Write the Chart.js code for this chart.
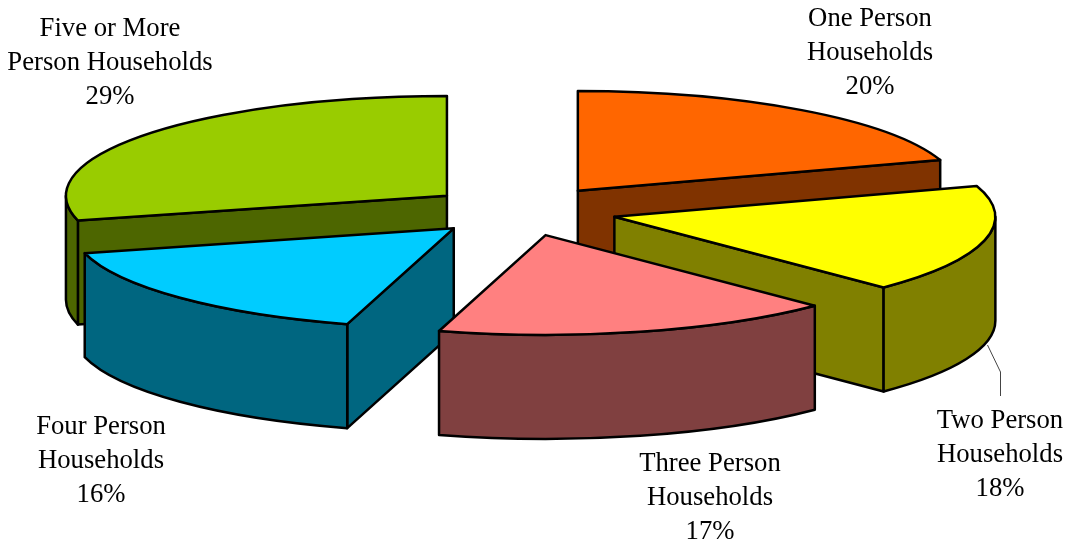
<!DOCTYPE html>
<html>
<head>
<meta charset="utf-8">
<title>Households by size</title>
<script src="https://cdn.jsdelivr.net/npm/chart.js@4"></script>
<style>
  html, body { margin: 0; padding: 0; background: #fff; }
  #wrap { width: 1070px; height: 544px; }
</style>
</head>
<body>
<div id="wrap"><canvas id="chart" width="1070" height="544"></canvas></div>
<script>
const categories = [
  "One Person Households",
  "Two Person Households",
  "Three Person Households",
  "Four Person Households",
  "Five or More Person Households",
];
// the printed labels are these rounded
const shares = [20, 17.51, 17, 16.49, 29];
const topColors = ["#FF6600", "#FFFF00", "#FF8080", "#00CCFF", "#99CC00"];
const wallColors = ["#803300", "#808000", "#804040", "#006680", "#4D6600"];

// label text, wrapped the way the picture wraps it
const labelLines = [
  ["One Person", "Households"],
  ["Two Person", "Households"],
  ["Three Person", "Households"],
  ["Four Person", "Households"],
  ["Five or More", "Person Households"],
];
const labelCentreX = [870, 1000, 710, 101, 110];
const labelTopY = [26, 428, 471, 434, 36];

const squash = 0.262; // tilt of the pie
const depth = 104;
const pull = 95; // explosion distance
const lineHeight = 34;

const pie3d = {
  id: "pie3d",
  // the library lays out the arcs, this only paints them as tilted slabs
  beforeDatasetDraw(chart, args) {
    const ctx = chart.ctx;
    const arcs = chart.getDatasetMeta(args.index).data.map((arc, i) => ({ arc, i }));
    const midOf = (a) => (a.startAngle + a.endAngle) / 2;
    // back to front
    arcs.sort((p, q) => Math.sin(midOf(p.arc)) - Math.sin(midOf(q.arc)));

    ctx.save();
    ctx.lineWidth = 2.5;
    ctx.strokeStyle = "#000";
    ctx.lineJoin = "round";
    arcs.forEach(({ arc, i }) => {
      const s = arc.startAngle;
      const e = arc.endAngle;
      const mid = midOf(arc);
      const rx = arc.outerRadius;
      const ry = rx * squash;
      const x = arc.x + Math.cos(mid) * pull;
      const y = arc.y + Math.sin(mid) * pull * squash;

      const face = (angle) => {
        const px = x + Math.cos(angle) * rx;
        const py = y + Math.sin(angle) * ry;
        ctx.beginPath();
        ctx.moveTo(x, y);
        ctx.lineTo(px, py);
        ctx.lineTo(px, py + depth);
        ctx.lineTo(x, y + depth);
        ctx.closePath();
        ctx.fillStyle = wallColors[i];
        ctx.fill();
        ctx.stroke();
      };
      if (Math.cos(s) < -1e-6) face(s);
      if (Math.cos(e) > 1e-6) face(e);

      const a = Math.max(s, 0);
      const b = Math.min(e, Math.PI);
      if (b > a) {
        ctx.beginPath();
        ctx.ellipse(x, y, rx, ry, 0, a, b);
        ctx.ellipse(x, y + depth, rx, ry, 0, b, a, true);
        ctx.closePath();
        ctx.fillStyle = wallColors[i];
        ctx.fill();
        ctx.stroke();
      }

      ctx.beginPath();
      ctx.moveTo(x, y);
      ctx.ellipse(x, y, rx, ry, 0, s, e);
      ctx.closePath();
      ctx.fillStyle = topColors[i];
      ctx.fill();
      ctx.stroke();
    });
    ctx.restore();
    return false;
  },
  afterDraw(chart) {
    const ctx = chart.ctx;
    ctx.save();
    // leader line of the Two Person label
    ctx.strokeStyle = "#444";
    ctx.lineWidth = 1;
    ctx.beginPath();
    ctx.moveTo(987.5, 345);
    ctx.lineTo(1000.5, 372);
    ctx.lineTo(1000.5, 396);
    ctx.stroke();

    ctx.fillStyle = "#000";
    ctx.font = '26.7px "Liberation Serif"';
    ctx.textAlign = "center";
    ctx.textBaseline = "alphabetic";
    shares.forEach((v, i) => {
      const lines = labelLines[i].concat(Math.round(v) + "%");
      lines.forEach((t, k) => {
        ctx.fillText(t, labelCentreX[i], labelTopY[i] + k * lineHeight);
      });
    });
    ctx.restore();
  },
};

new Chart(document.getElementById("chart"), {
  type: "pie",
  data: {
    labels: categories,
    datasets: [{ data: shares, backgroundColor: topColors, borderWidth: 0 }],
  },
  options: {
    responsive: false,
    animation: false,
    radius: 381,
    layout: { padding: { right: 26, bottom: 122 } },
    plugins: { legend: { display: false }, tooltip: { enabled: false } },
  },
  plugins: [pie3d],
});
</script>
</body>
</html>
